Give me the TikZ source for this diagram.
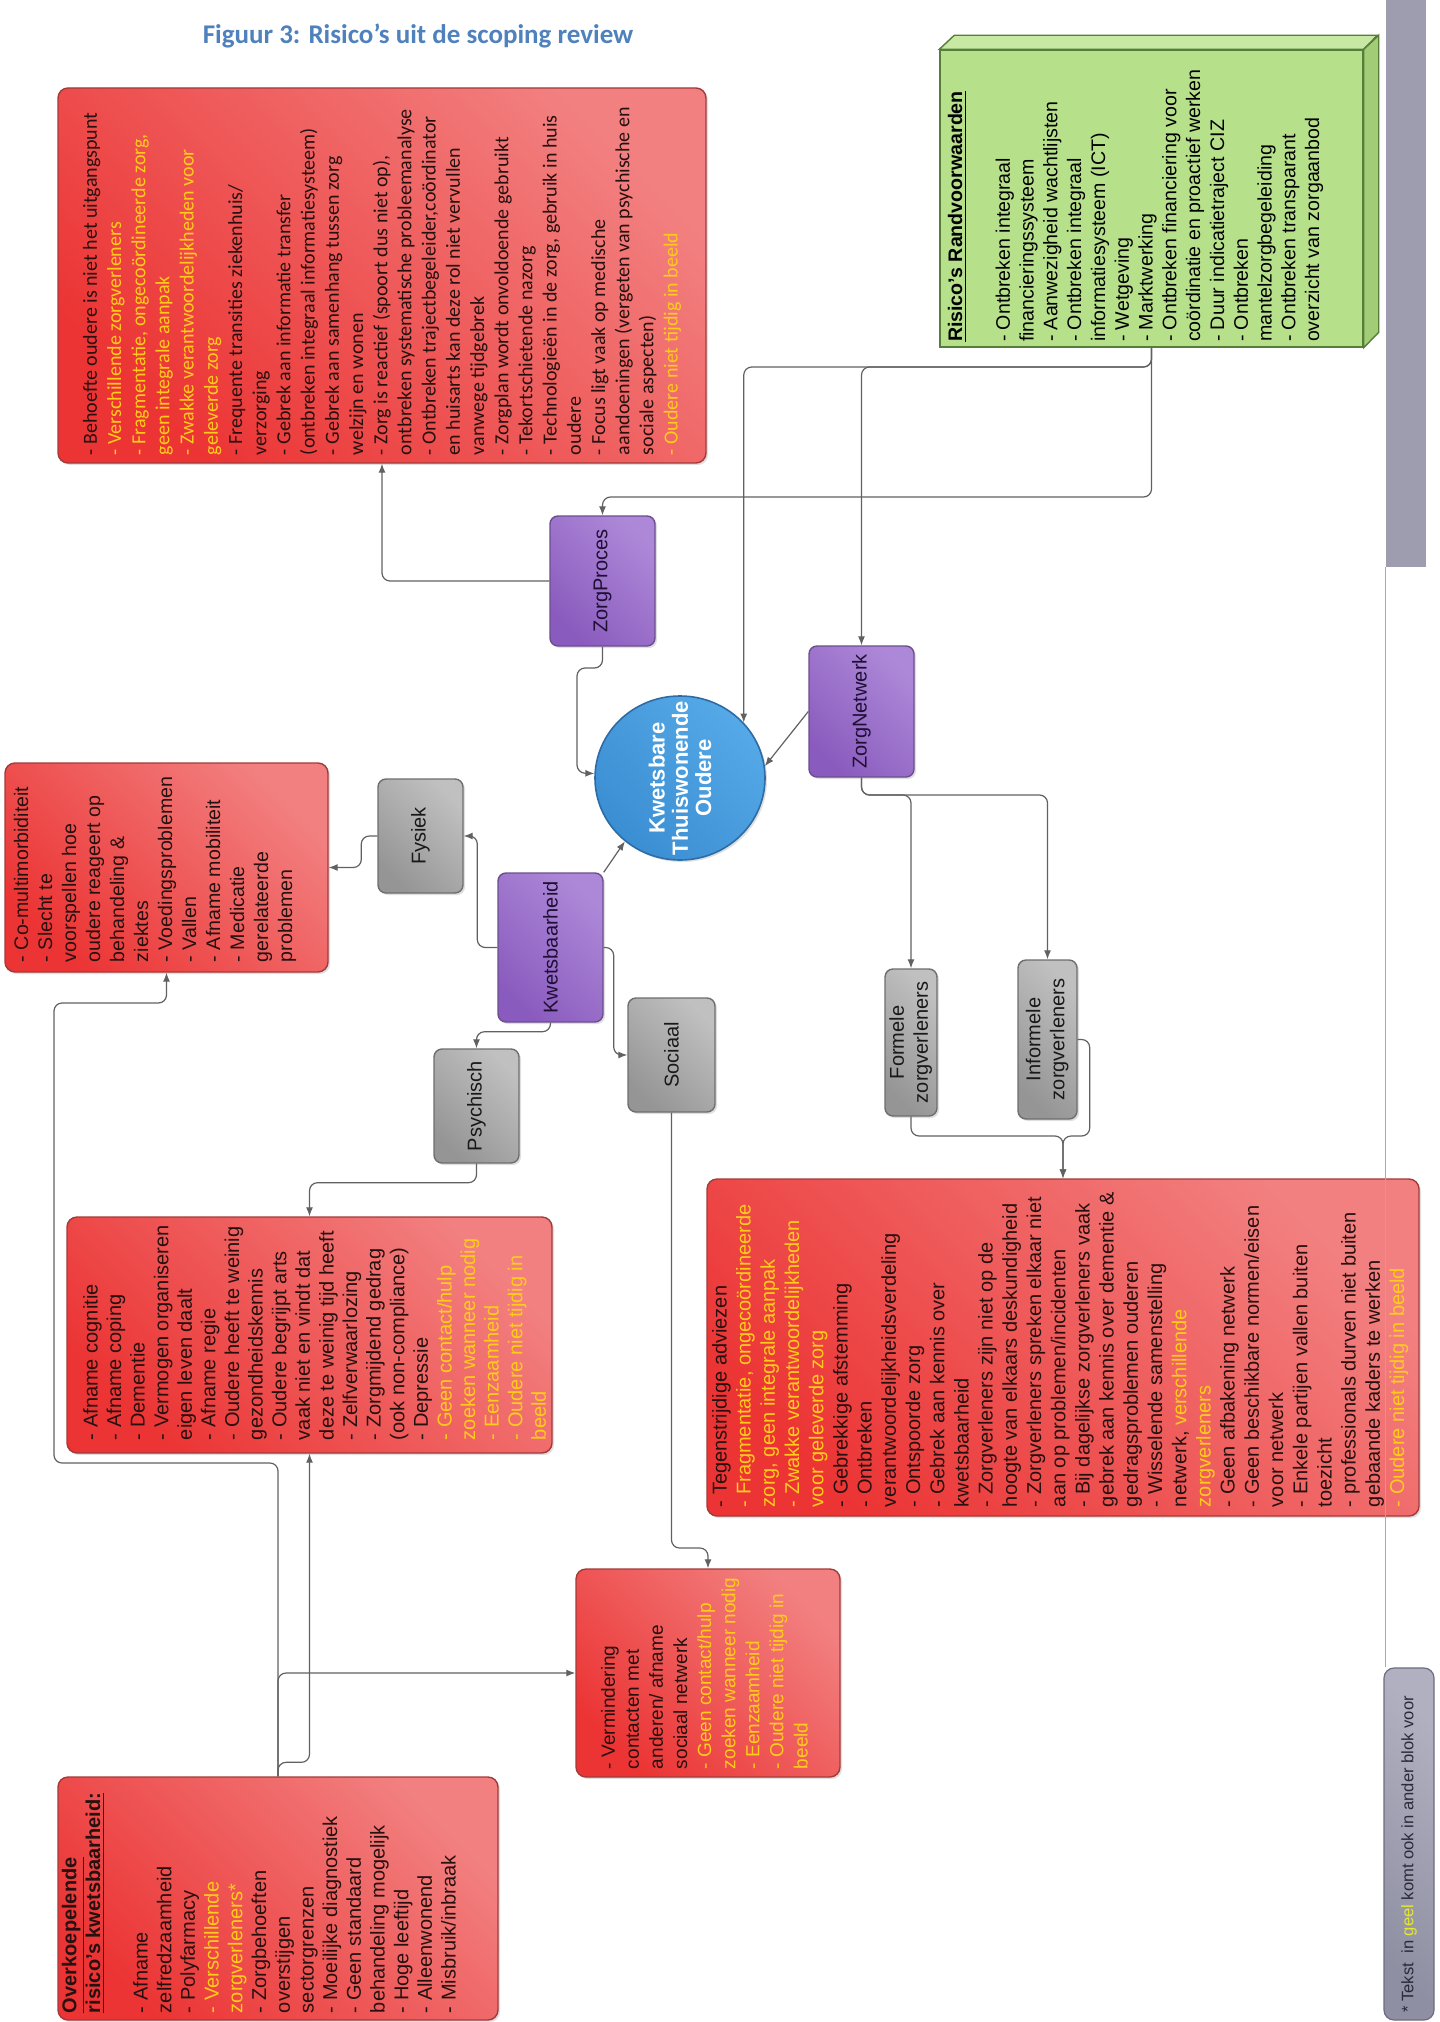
\documentclass[tikz,border=0pt]{standalone}
\usepackage{graphicx}
\usepackage{fontspec}
\setmainfont{Liberation Sans}
\newfontfamily\calfont{Carlito}
\usetikzlibrary{arrows.meta,shadows,shapes.geometric}
\definecolor{redTop}{HTML}{F28080}
\definecolor{redBot}{HTML}{EC3434}
\definecolor{redEdge}{HTML}{A33A3A}
\definecolor{yel}{HTML}{FFCC1A}
\definecolor{txtdark}{HTML}{261010}
\definecolor{purpTop}{HTML}{AD88D8}
\definecolor{purpBot}{HTML}{8A5BBE}
\definecolor{purpEdge}{HTML}{6C4E8E}
\definecolor{purpText}{HTML}{1E0F33}
\definecolor{grayTop}{HTML}{C0C0C0}
\definecolor{grayBot}{HTML}{959595}
\definecolor{grayEdge}{HTML}{6E6E6E}
\definecolor{blueTop}{HTML}{55A9E7}
\definecolor{blueBot}{HTML}{3A8ED2}
\definecolor{blueEdge}{HTML}{2D6CA6}
\definecolor{grFront}{HTML}{B7E08B}
\definecolor{grTop}{HTML}{C8E9A4}
\definecolor{grSide}{HTML}{A3CC76}
\definecolor{grEdge}{HTML}{557F38}
\definecolor{barGray}{HTML}{9D9DAF}
\definecolor{lineGray}{HTML}{616161}
\definecolor{sepGray}{HTML}{A8A8B0}
\definecolor{titleBlue}{HTML}{4F81BD}
\definecolor{fnTop}{HTML}{B0B0C0}
\definecolor{fnBot}{HTML}{8F8FA3}
\definecolor{fnEdge}{HTML}{6C6C80}
\definecolor{fnText}{HTML}{2A2A38}
\definecolor{geel}{HTML}{E6E62E}
\begin{document}
\begin{tikzpicture}[x=0.5pt,y=-0.5pt,
  shadowed/.style={drop shadow={opacity=0.25,shadow xshift=1pt,shadow yshift=-1pt}},
  redbox/.style={draw=redEdge,line width=0.7pt,rounded corners=5pt,top color=redTop,bottom color=redBot,shading angle=-45,inner sep=0pt,shadowed},
  pbox/.style={draw=purpEdge,line width=0.7pt,rounded corners=4pt,top color=purpTop,bottom color=purpBot,shading angle=-45,inner sep=0pt,text=purpText,font=\fontsize{10}{12}\selectfont,shadowed},
  gbox/.style={draw=grayEdge,line width=0.7pt,rounded corners=4pt,top color=grayTop,bottom color=grayBot,shading angle=-45,inner sep=0pt,text=black!90,font=\fontsize{10}{12}\selectfont,shadowed},
  rtxt/.style={rotate=90,anchor=north west,inner sep=0pt,outer sep=0pt,align=left,text=txtdark},
  conn/.style={draw=lineGray,line width=0.6pt,rounded corners=4pt,-{Latex[length=4.5pt,width=3.5pt]}},
  sepline/.style={draw=sepGray,line width=0.8pt}]
\fill[white] (0,0) rectangle (1439,2022);
\useasboundingbox (0,0) rectangle (1439,2022);

% title
\node[font=\calfont\bfseries\fontsize{13.5}{16}\selectfont,text=titleBlue,inner sep=0pt] (title) at (418,36) {Figuur 3: Risico’s uit de scoping review};

% right bar and footnote
\node[fill=barGray,minimum width=20pt,minimum height=283.5pt,inner sep=0pt] (bar) at (1406,283.5) {};
\node[draw=fnEdge,line width=0.6pt,rounded corners=5pt,top color=fnTop,bottom color=fnBot,shading angle=-45,minimum width=25pt,minimum height=176pt,inner sep=0pt] (fn) at (1409,1844) {};
\node[rotate=90,anchor=west,inner sep=0pt,font=\fontsize{8.3}{10}\selectfont,text=fnText] (fnt) at (1409,2013) {* Tekst\ \ in {\color{geel}geel} komt ook in ander blok voor};

% green 3D box
\node[draw=grEdge,line width=0.7pt,fill=grFront,minimum width=211.5pt,minimum height=148.5pt,inner sep=0pt] (gr) at (1151.5,198.5) {};
\filldraw[fill=grTop,draw=grEdge,line width=0.7pt] (gr.north west) -- ++(15,-14) -- ++(423,0) -- (gr.north east) -- cycle;
\filldraw[fill=grSide,draw=grEdge,line width=0.7pt] (gr.north east) -- ++(15,-14) -- ++(0,297) -- (gr.south east) -- cycle;
\node[rtxt,text=black,font=\fontsize{9.8}{11.9}\selectfont] (grt) at (948,342) {\textbf{\underline{Risico’s Randvoorwaarden}}\\ \mbox{}\\
- Ontbreken integraal\\ financieringssysteem\\ - Aanwezigheid wachtlijsten\\ - Ontbreken integraal\\ informatiesysteem (ICT)\\ - Wetgeving\\ - Marktwerking\\ - Ontbreken financiering voor\\ coördinatie en proactief werken\\ - Duur indicatietraject CIZ\\ - Ontbreken\\ mantelzorgbegeleiding\\ - Ontbreken transparant\\ overzicht van zorgaanbod};

% red boxes
\node[redbox,minimum width=324pt,minimum height=187.5pt] (tr) at (382,275.5) {};
\node[rtxt,font=\calfont\fontsize{10}{12.1}\selectfont] (trt) at (83,455) {- Behoefte oudere is niet het uitgangspunt\\
{\color{yel}- Verschillende zorgverleners}\\
{\color{yel}- Fragmentatie, ongecoördineerde zorg,}\\
{\color{yel}geen integrale aanpak}\\
{\color{yel}- Zwakke verantwoordelijkheden voor}\\
{\color{yel}geleverde zorg}\\
- Frequente transities ziekenhuis/\\ verzorging\\ - Gebrek aan informatie transfer\\ (ontbreken integraal informatiesysteem)\\ - Gebrek aan samenhang tussen zorg\\ welzijn en wonen\\ - Zorg is reactief (spoort dus niet op),\\ ontbreken systematische probleemanalyse\\ - Ontbreken trajectbegeleider,coördinator\\ en huisarts kan deze rol niet vervullen\\ vanwege tijdgebrek\\ - Zorgplan wordt onvoldoende gebruikt\\ - Tekortschietende nazorg\\ - Technologieën in de zorg, gebruik in huis\\ oudere\\ - Focus ligt vaak op medische\\ aandoeningen (vergeten van psychische en\\ sociale aspecten)\\
{\color{yel}- Oudere niet tijdig in beeld}};

\node[redbox,minimum width=161.5pt,minimum height=104.5pt] (cm) at (166.5,867.5) {};
\node[rtxt,font=\fontsize{9.8}{12}\selectfont] (cmt) at (14,962) {- Co-multimorbiditeit\\ - Slecht te\\ voorspellen hoe\\ oudere reageert op\\ behandeling \&\\ ziektes\\ - Voedingsproblemen\\ - Vallen\\ - Afname mobiliteit\\ - Medicatie\\ gerelateerde\\ problemen};

\node[redbox,minimum width=242.5pt,minimum height=118pt] (pr) at (309.5,1335) {};
\node[rtxt,font=\fontsize{10}{11.8}\selectfont] (prt) at (83,1440) {- Afname cognitie\\ - Afname coping\\ - Dementie\\ - Vermogen organiseren\\ eigen leven daalt\\ - Afname regie\\ - Oudere heeft te weinig\\ gezondheidskennis\\ - Oudere begrijpt arts\\ vaak niet en vindt dat\\ deze te weinig tijd heeft\\ - Zelfverwaarlozing\\ - Zorgmijdend gedrag\\ (ook non-compliance)\\ - Depressie\\
{\color{yel}- Geen contact/hulp}\\ {\color{yel}zoeken wanneer nodig}\\ {\color{yel}- Eenzaamheid}\\ {\color{yel}- Oudere niet tijdig in}\\ {\color{yel}beeld}};

\node[redbox,minimum width=132pt,minimum height=104pt] (sb) at (708,1673) {};
\node[rtxt,font=\fontsize{9.5}{12.05}\selectfont] (sbt) at (601,1769) {- Vermindering\\ contacten met\\ anderen/ afname\\ sociaal netwerk\\
{\color{yel}- Geen contact/hulp}\\ {\color{yel}zoeken wanneer nodig}\\ {\color{yel}- Eenzaamheid}\\ {\color{yel}- Oudere niet tijdig in}\\ {\color{yel}beeld}};

\node[redbox,minimum width=220pt,minimum height=121.5pt] (ok) at (278,1898.5) {};
\node[rtxt,font=\fontsize{10}{11.85}\selectfont] (okt) at (62,2013) {\textbf{\underline{Overkoepelende}}\\ \textbf{\underline{risico’s kwetsbaarheid:}}\\ \mbox{}\\
- Afname\\ zelfredzaamheid\\ - Polyfarmacy\\ {\color{yel}- Verschillende}\\ {\color{yel}zorgverleners*}\\ - Zorgbehoeften\\ overstijgen\\ sectorgrenzen\\ - Moeilijke diagnostiek\\ - Geen standaard\\ behandeling mogelijk\\ - Hoge leeftijd\\ - Alleenwonend\\ - Misbruik/inbraak};

\node[redbox,minimum width=356pt,minimum height=168.5pt] (br) at (1063,1347.5) {};
\node[rtxt,font=\fontsize{10}{12.1}\selectfont] (brt) at (712,1507) {- Tegenstrijdige adviezen\\
{\color{yel}- Fragmentatie, ongecoördineerde}\\ {\color{yel}zorg, geen integrale aanpak}\\ {\color{yel}- Zwakke verantwoordelijkheden}\\ {\color{yel}voor geleverde zorg}\\
- Gebrekkige afstemming\\ - Ontbreken\\ verantwoordelijkheidsverdeling\\ - Ontspoorde zorg\\ - Gebrek aan kennis over\\ kwetsbaarheid\\ - Zorgverleners zijn niet op de\\ hoogte van elkaars deskundigheid\\ - Zorgverleners spreken elkaar niet\\ aan op problemen/incidenten\\ - Bij dagelijkse zorgverleners vaak\\ gebrek aan kennis over dementie \&\\ gedragsproblemen ouderen\\ - Wisselende samenstelling\\ netwerk, {\color{yel}verschillende}\\ {\color{yel}zorgverleners}\\ - Geen afbakening netwerk\\ - Geen beschikbare normen/eisen\\ voor netwerk\\ - Enkele partijen vallen buiten\\ toezicht\\ - professionals durven niet buiten\\ gebaande kaders te werken\\
{\color{yel}- Oudere niet tijdig in beeld}};

% centre and category boxes
\node[ellipse,draw=blueEdge,line width=0.8pt,top color=blueTop,bottom color=blueBot,shading angle=-45,minimum width=85pt,minimum height=82pt,inner sep=0pt,shadowed] (circ) at (680,778) {};
\node[rotate=90,align=center,inner sep=0pt,text=white,font=\bfseries\fontsize{11}{11.6}\selectfont] (circt) at (circ.center) {Kwetsbare\\Thuiswonende\\Oudere};
\node[pbox,minimum width=52.5pt,minimum height=65pt] (zp) at (602.5,581) {\rotatebox{90}{ZorgProces}};
\node[pbox,minimum width=52.5pt,minimum height=65.5pt] (zn) at (861.5,711.5) {\rotatebox{90}{ZorgNetwerk}};
\node[pbox,minimum width=52.5pt,minimum height=74.5pt] (kw) at (550.5,947.5) {\rotatebox{90}{Kwetsbaarheid}};
\node[gbox,minimum width=42.5pt,minimum height=57pt] (fy) at (420.5,836) {\rotatebox{90}{Fysiek}};
\node[gbox,minimum width=42.5pt,minimum height=57pt] (ps) at (476.5,1106) {\rotatebox{90}{Psychisch}};
\node[gbox,minimum width=43.5pt,minimum height=57pt] (so) at (671.5,1055) {\rotatebox{90}{Sociaal}};
\node[gbox,minimum width=26pt,minimum height=73.5pt] (fo) at (911,1042.5) {\rotatebox{90}{\begin{tabular}{@{}c@{}}Formele\\zorgverleners\end{tabular}}};
\node[gbox,minimum width=29.5pt,minimum height=79.5pt] (inf) at (1047.5,1039.5) {\rotatebox{90}{\begin{tabular}{@{}c@{}}Informele\\zorgverleners\end{tabular}}};

% connectors
\coordinate (gsplit) at (gr.south |- 0,367);
\draw[conn] (gr.south) -- (gsplit) -| (circ.41);
\draw[conn] (gr.south) -- (gsplit) -| (zn.north);
\draw[conn] (gr.south) -- (gr.south |- 0,497) -| (zp.north);
\draw[conn] (zp.west) -| (tr.south);
\draw[conn] (zp.south) -- (602.5,668) -- (577,668) -- (577,773) -- (circ.177);
\draw[conn] (zn.west) -- (circ.8);
\draw[conn] (kw.north east) -- (circ.229);
\draw[conn] (kw.west) -- ++(-20,0) |- (fy.east);
\draw[conn] (kw.south) -- ++(0,9) -| (ps.north);
\draw[conn] (kw.east) -- ++(10,0) |- (so.west);
\draw[conn] (fy.west) -- ++(-16,0) |- (cm.east);
\draw[conn] (ps.south) -- ++(0,19) -| (pr.north);
\draw[conn] (so.south) -- (671.5,1548) -| (sb.north);
\coordinate (zsplit) at (zn.south |- 0,795);
\draw[conn] (zn.south) -- (zsplit) -| (fo.north);
\draw[conn] (zn.south) -- (zsplit) -| (inf.north);
\coordinate (mrg) at (br.north |- 0,1136);
\draw[conn] (fo.south) |- (mrg) -- (br.north);
\draw[conn] (inf.east) -- ++(12,0) |- (mrg) -- (br.north);
\draw[conn] (ok.north) -- (278,1463) -- (54,1463) -- (54,1003) -| (cm.south);
\draw[conn] (ok.north) -- ++(0,-14) -| (pr.south);
\draw[conn] (ok.north) |- (sb.west);

% separator line
\draw[sepline] (bar.south west) -- (bar.south west |- fn.north);
\end{tikzpicture}
\end{document}
